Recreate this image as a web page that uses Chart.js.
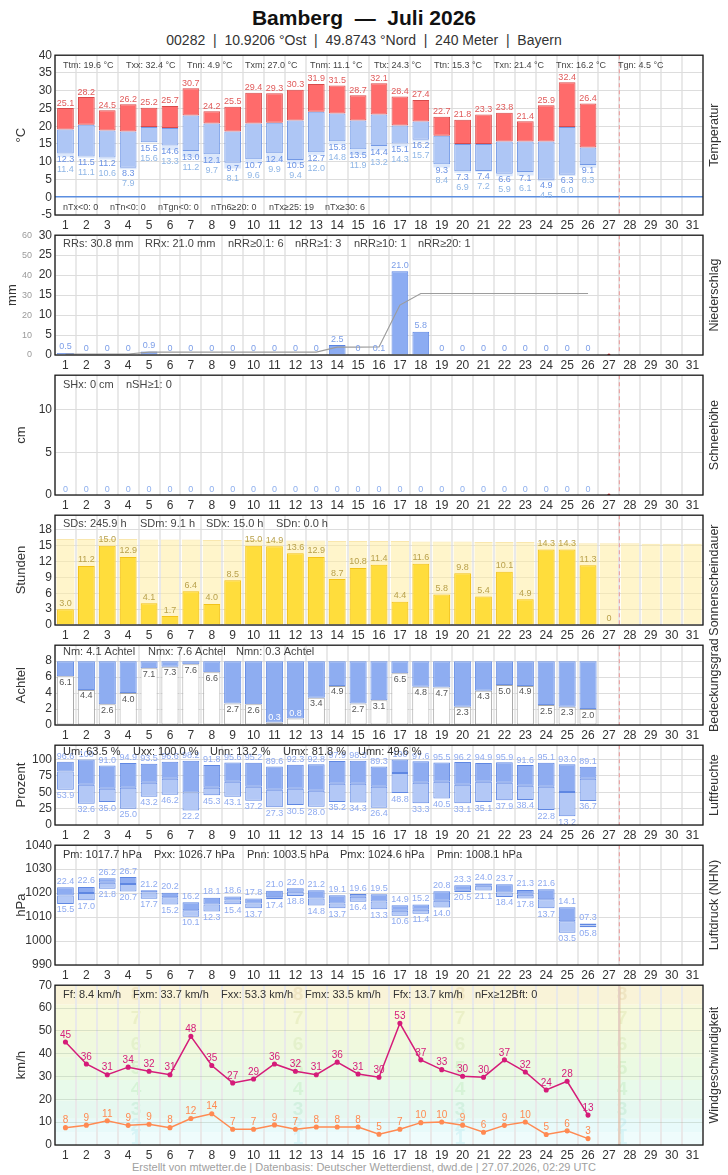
<!DOCTYPE html>
<html lang="de">
<head>
<meta charset="UTF-8">
<title>Bamberg — Juli 2026</title>
<script src="https://cdn.jsdelivr.net/npm/chart.js"></script>
<style>
  body { margin: 0; background: #fff; }
  #wrap { position: relative; width: 728px; height: 1175px; overflow: hidden; }
  #title { position: absolute; top: 5px; left: 0; width: 728px; text-align: center;
           font: bold 21px "Liberation Sans Narrow", "Liberation Sans", sans-serif; color: #111; line-height: 26px; }
  #sub { position: absolute; top: 31px; left: 0; width: 728px; text-align: center;
         font: 14px "Liberation Sans Narrow", "Liberation Sans", sans-serif; color: #333; line-height: 18px; }
  #foot { position: absolute; top: 1160px; left: 0; width: 728px; text-align: center;
          font: 11px "Liberation Sans", Arial, sans-serif; color: #a0a0a0; line-height: 14px; }
  canvas { position: absolute; left: 0; }
</style>
</head>
<body>
<div id="wrap">
  <div id="title">Bamberg &nbsp;—&nbsp; Juli 2026</div>
  <div id="sub">00282 &nbsp;|&nbsp; 10.9206 °Ost &nbsp;|&nbsp; 49.8743 °Nord &nbsp;|&nbsp; 240 Meter &nbsp;|&nbsp; Bayern</div>
  <div id="foot">Erstellt von mtwetter.de | Datenbasis: Deutscher Wetterdienst, dwd.de | 27.07.2026, 02:29 UTC</div>
</div>
<script>
// ---- data ----
const days = ['1','2','3','4','5','6','7','8','9','10','11','12','13','14','15','16',
              '17','18','19','20','21','22','23','24','25','26','27','28','29','30','31'];

// temperature (°C)
const tMax  = [25.1,28.2,24.5,26.2,25.2,25.7,30.7,24.2,25.5,29.4,29.3,30.3,31.9,31.5,28.7,32.1,28.4,27.4,22.7,21.8,23.3,23.8,21.4,25.9,32.4,26.4];
const tMean = [19.1,20.4,18.8,18.5,19.8,19.5,23.0,20.8,18.5,20.8,21.0,21.6,24.1,23.6,21.6,23.3,20.2,21.3,17.3,15.0,15.0,15.7,15.7,15.7,19.8,14.0];
const tMin  = [12.3,11.5,11.2,8.3,15.5,14.6,13.0,12.1,9.7,10.7,12.4,10.5,12.7,15.8,13.5,14.4,15.1,16.2,9.3,7.3,7.4,6.6,7.1,4.9,6.3,9.1];
const tGnd  = [11.4,11.1,10.6,7.9,15.6,13.3,11.2,9.7,8.1,9.6,9.9,9.4,12.0,14.8,11.9,13.2,14.3,15.7,8.4,6.9,7.2,5.9,6.1,4.5,6.0,8.3];

// precipitation (mm) and running total
const rr    = [0.5,0,0,0,0.9,0,0,0,0,0,0,0,0,2.5,0,0.1,21.0,5.8,0,0,0,0,0,0,0,0];
const rrSum = [0.5,0.5,0.5,0.5,1.4,1.4,1.4,1.4,1.4,1.4,1.4,1.4,1.4,3.9,3.9,4.0,25.0,30.8,30.8,30.8,30.8,30.8,30.8,30.8,30.8,30.8];

// snow depth (cm)
const snow = [0,0,0,0,0,0,0,0,0,0,0,0,0,0,0,0,0,0,0,0,0,0,0,0,0,0];

// sunshine (h) and possible sunshine (h)
const sun    = [3.0,11.2,15.0,12.9,4.1,1.7,6.4,4.0,8.5,15.0,14.9,13.6,12.9,8.7,10.8,11.4,4.4,11.6,5.8,9.8,5.4,10.1,4.9,14.3,14.3,11.3,0];
const sunMax = [16.3,16.3,16.3,16.3,16.2,16.2,16.2,16.1,16.1,16.1,16.0,16.0,16.0,15.9,15.9,15.9,15.9,15.8,15.8,15.8,15.7,15.7,15.7,15.6,15.6,15.5,15.5,15.5,15.4,15.4,15.4];

// cloud cover (octas)
const cloud = [6.1,4.4,2.6,4.0,7.1,7.3,7.6,6.6,2.7,2.6,0.3,0.8,3.4,4.9,2.7,3.1,6.5,4.8,4.7,2.3,4.3,5.0,4.9,2.5,2.3,2.0];

// relative humidity (%)
const rhMax  = [96.6,100,91.0,94.9,93.5,96.6,98.2,91.8,95.6,95.2,89.6,92.3,92.8,97.9,98.3,89.3,100,97.6,95.5,96.2,94.9,95.9,91.6,95.1,93.0,89.1];
const rhMean = [81.8,61.5,55.4,56.9,64.6,70.8,49.6,56.9,66.2,58.5,53.8,55.4,52.3,63.1,63.1,58.5,79.5,64.6,66.2,61.5,66.2,64.6,60.0,58.5,50.5,70.8];
const rhMin  = [53.9,32.6,35.0,25.0,43.2,46.2,22.2,45.3,43.1,37.2,27.3,30.5,28.0,35.2,34.3,26.4,48.8,33.3,40.5,33.1,35.1,37.9,38.4,22.8,13.2,36.7];

// pressure (hPa)
const pMax  = [1022.4,1022.6,1026.2,1026.7,1021.2,1020.2,1016.2,1018.1,1018.6,1017.8,1021.0,1022.0,1021.2,1019.1,1019.6,1019.5,1014.9,1015.2,1020.8,1023.3,1024.0,1023.7,1021.3,1021.6,1014.1,1007.3];
const pMean = [1019.0,1020.0,1024.3,1023.8,1020.3,1018.3,1012.9,1015.3,1016.9,1015.7,1018.3,1020.6,1017.8,1015.7,1018.5,1016.5,1012.6,1013.1,1016.8,1021.0,1023.1,1020.3,1019.3,1017.4,1008.3,1006.5];
const pMin  = [1015.5,1017.0,1021.8,1020.7,1017.7,1015.2,1010.1,1012.3,1015.4,1013.7,1017.4,1018.8,1014.8,1013.7,1016.4,1013.3,1010.6,1011.4,1014.0,1020.5,1021.1,1018.4,1017.8,1013.7,1003.5,1005.8];

// wind (km/h): max gust and mean
const gust = [45.1,35.5,30.8,34.1,32.3,30.8,47.6,34.8,27.2,28.9,35.5,32.3,30.8,36.3,31.1,29.7,53.3,37.3,33.0,30.1,29.7,37.3,32.0,24.1,27.9,13.1];
const wind = [7.6,8.7,10.6,8.6,9.1,7.6,11.6,13.7,6.9,6.9,8.8,6.9,7.9,7.9,7.9,4.7,6.9,9.8,10.1,8.7,5.6,8.6,10.1,4.6,6.2,2.8];

// Beaufort band limits (km/h)
const bftEdges = [0,5.5,11.5,19.5,28.5,38.5,49.5,61.5,70];

// ---- helpers ----
const FONT = '"Liberation Sans", Arial, sans-serif';
Chart.defaults.font.family = FONT;
Chart.defaults.color = '#333';

function canvasAt(plotTop, plotH) {
  const c = document.createElement('canvas');
  c.width = 728;
  c.height = plotH + 30;
  c.style.top = (plotTop - 10) + 'px';
  document.getElementById('wrap').appendChild(c);
  return c;
}

function xAxis() {
  return {
    offset: true,
    grid: { offset: true, color: '#e9e9e9', lineWidth: 2, drawTicks: false },
    border: { display: false },
    ticks: { autoSkip: false, maxRotation: 0, padding: 3, color: '#333', font: { size: 12 } },
    afterFit: s => { s.height = 20; }
  };
}

function yAxis(title, min, max, step, top, width, extra) {
  const ax = {
    min: min, max: max,
    grid: { color: '#dddddd', drawTicks: false },
    border: { display: false },
    ticks: { stepSize: step, padding: 3, color: '#333', font: { size: 12 }, callback: v => String(v) },
    afterBuildTicks: s => { s.ticks = s.ticks.filter(t => t.value <= top && Math.abs((t.value - min) / step - Math.round((t.value - min) / step)) < 1e-6); },
    title: title ? { display: true, text: title, color: '#333', font: { size: 13 }, padding: { top: 14, bottom: 0 } } : { display: false },
    afterFit: s => { s.width = width; }
  };
  return Object.assign(ax, extra || {});
}

function baseOptions(scales) {
  return {
    responsive: false,
    animation: false,
    events: [],
    layout: { padding: { top: 10, right: 25, left: 0, bottom: 0 } },
    plugins: { legend: { display: false }, tooltip: { enabled: false } },
    scales: scales
  };
}

// draws value labels, stats rows, today marker, frame, right-hand title
function deco(o) {
  return {
    id: 'deco',
    beforeDraw(chart) { if (o.bg) o.bg(chart); },
    afterDatasetsDraw(chart) {
      const ctx = chart.ctx, xs = chart.scales.x;
      ctx.save();
      ctx.textAlign = 'center';
      ctx.textBaseline = 'middle';
      (o.labels || []).forEach(it => {
        const ys = chart.scales[it.axis || 'y'];
        ctx.font = (it.size || 9) + 'px ' + FONT;
        it.vals.forEach((v, i) => {
          if (v === null || v === undefined) return;
          const at = it.at ? it.at[i] : v;
          ctx.fillStyle = typeof it.color === 'function' ? it.color(v) : it.color;
          const dy = typeof it.dy === 'function' ? it.dy(v) : it.dy;
          ctx.fillText(it.fmt(v), xs.getPixelForValue(i), ys.getPixelForValue(at) + dy);
        });
      });
      ctx.restore();
    },
    afterDraw(chart) {
      const ctx = chart.ctx, a = chart.chartArea, xs = chart.scales.x;
      ctx.save();
      // today marker
      const tx = (xs.getPixelForValue(26) + xs.getPixelForValue(27)) / 2;
      ctx.strokeStyle = o.todayColor || '#eba5a5';
      ctx.lineWidth = o.todayWidth || 1.2;
      ctx.setLineDash(o.todayDash || [4, 3]);
      ctx.beginPath(); ctx.moveTo(tx, a.top); ctx.lineTo(tx, a.bottom); ctx.stroke();
      ctx.setLineDash([]);
      // frame
      ctx.strokeStyle = '#1a1a1a';
      ctx.lineWidth = 1.3;
      ctx.strokeRect(a.left, a.top, a.right - a.left, a.bottom - a.top);
      // stats
      ctx.textAlign = 'left';
      ctx.textBaseline = 'middle';
      (o.stats || []).forEach(row => {
        ctx.font = (row.size || 11) + 'px ' + FONT;
        ctx.fillStyle = row.color || '#444';
        const y = row.dy >= 0 ? a.top + row.dy : a.bottom + row.dy;
        row.items.forEach((t, i) => ctx.fillText(t, row.xs[i], y));
      });
      // right title
      ctx.translate(715, (a.top + a.bottom) / 2 + (o.rightShift || 0));
      ctx.rotate(-Math.PI / 2);
      ctx.textAlign = 'center';
      ctx.font = '12.5px ' + FONT;
      ctx.fillStyle = '#333';
      ctx.fillText(o.right, 0, 0);
      ctx.restore();
    }
  };
}

const f1 = v => v.toFixed(1);
const f0or1 = v => (v === 0 ? '0' : v.toFixed(1));

// ---- 1 Temperatur ----
new Chart(canvasAt(55, 160), {
  type: 'bar',
  data: {
    labels: days,
    datasets: [
      { data: tMean.map((m, i) => [m, tMax[i]]), backgroundColor: '#ff6b6b', borderColor: '#d84a4a', borderWidth: 1, borderSkipped: false, grouped: false, barPercentage: 0.8, categoryPercentage: 1 },
      { data: tMin.map((m, i) => [m, tMean[i]]), backgroundColor: '#aec6f5', borderColor: '#7399e6', borderWidth: 1, borderSkipped: false, grouped: false, barPercentage: 0.8, categoryPercentage: 1 },
      { data: tGnd.map((g, i) => [g, tMin[i]]), backgroundColor: '#dbe7fb', borderWidth: 0, grouped: false, barPercentage: 0.8, categoryPercentage: 1 }
    ]
  },
  options: baseOptions({
    x: xAxis(),
    y: yAxis('°C', -5, 40, 5, 40, 55, {
      grid: { drawTicks: false, color: c => (c.tick && c.tick.value === 0 ? '#5b8ee0' : '#dddddd'), lineWidth: c => (c.tick && c.tick.value === 0 ? 1.5 : 1) }
    })
  }),
  plugins: [deco({
    right: 'Temperatur',
    labels: [
      { vals: tMax, dy: -5, color: '#e05a5a', fmt: f1 },
      { vals: tMin, dy: 6, color: '#6a92e4', fmt: f1 },
      { vals: tGnd, at: tMin, dy: 16, color: '#8fb6e6', fmt: f1 }
    ],
    stats: [
      { dy: 10, size: 9, xs: [63,126,187,245,310,374,434,494,556,618],
        items: ['Ttm: 19.6 °C','Txx: 32.4 °C','Tnn: 4.9 °C','Txm: 27.0 °C','Tnm: 11.1 °C','Ttx: 24.3 °C','Ttn: 15.3 °C','Txn: 21.4 °C','Tnx: 16.2 °C','Tgn: 4.5 °C'] },
      { dy: -7, size: 9, xs: [63,110,158,211,269,325],
        items: ['nTx<0: 0','nTn<0: 0','nTgn<0: 0','nTn6≥20: 0','nTx≥25: 19','nTx≥30: 6'] }
    ]
  })]
});

// ---- 2 Niederschlag ----
new Chart(canvasAt(235, 120), {
  type: 'bar',
  data: {
    labels: days,
    datasets: [
      { type: 'line', data: rrSum, yAxisID: 'yCum', borderColor: '#9c9c9c', borderWidth: 1.2, pointRadius: 0, tension: 0 },
      { type: 'line', data: [{ x: '27', y: 0 }], yAxisID: 'y', showLine: false, pointRadius: 1.6, pointBackgroundColor: '#e02020', pointBorderWidth: 0 },
      { data: rr, backgroundColor: '#8cacf2', borderColor: '#5a84e2', borderWidth: 1, grouped: false, barPercentage: 0.8, categoryPercentage: 1 }
    ]
  },
  options: baseOptions({
    x: xAxis(),
    y: yAxis(null, 0, 30, 5, 30, 21, { weight: 0 }),
    yCum: yAxis('mm', 0, 60, 10, 60, 34, {
      position: 'left', weight: 1, grid: { display: false, drawTicks: false },
      ticks: { stepSize: 10, padding: 2, color: '#9a9a9a', font: { size: 9 } },
      title: { display: true, text: 'mm', color: '#333', font: { size: 13 }, padding: { top: 5, bottom: 0 } }
    })
  }),
  plugins: [deco({
    right: 'Niederschlag',
    labels: [{ vals: rr, dy: -6, color: '#7c9ee8', fmt: f0or1 }],
    stats: [{ dy: 9, xs: [63,145,228,295,354,418],
      items: ['RRs: 30.8 mm','RRx: 21.0 mm','nRR≥0.1: 6','nRR≥1: 3','nRR≥10: 1','nRR≥20: 1'] }]
  })]
});

// ---- 3 Schneehöhe ----
new Chart(canvasAt(375, 120), {
  type: 'bar',
  data: {
    labels: days,
    datasets: [
      { type: 'line', data: [{ x: '27', y: 0 }], showLine: false, pointRadius: 1.6, pointBackgroundColor: '#e02020', pointBorderWidth: 0 },
      { data: snow, backgroundColor: '#8cacf2', borderColor: '#5a84e2', borderWidth: 0, grouped: false, barPercentage: 0.8, categoryPercentage: 1 }
    ]
  },
  options: baseOptions({ x: xAxis(), y: yAxis('cm', 0, 14, 5, 10, 55) }),
  plugins: [deco({
    right: 'Schneehöhe',
    labels: [{ vals: snow, dy: -5, color: '#8fb0ee', fmt: v => String(v) }],
    stats: [{ dy: 10, xs: [63,126], items: ['SHx: 0 cm','nSH≥1: 0'] }]
  })]
});

// ---- 4 Sonnenscheindauer ----
new Chart(canvasAt(515, 110), {
  type: 'bar',
  data: {
    labels: days,
    datasets: [
      { data: sun, backgroundColor: '#ffdd3c', borderColor: '#f3c31a', borderWidth: 1, grouped: false, barPercentage: 0.8, categoryPercentage: 1, order: 1 },
      { data: sunMax, backgroundColor: 'rgba(255,236,160,0.55)', borderColor: 'rgba(245,215,120,0.6)', borderWidth: { top: 1, left: 0, right: 0, bottom: 0 }, grouped: false, barPercentage: 0.88, categoryPercentage: 1, order: 2 }
    ]
  },
  options: baseOptions({ x: xAxis(), y: yAxis('Stunden', 0, 20.8, 3, 18, 55) }),
  plugins: [deco({
    right: 'Sonnenscheindauer',
    rightShift: 10,
    labels: [{ vals: sun, dy: -6, color: '#b9a14c', fmt: f0or1 }],
    stats: [{ dy: 9, xs: [63,140,206,276], items: ['SDs: 245.9 h','SDm: 9.1 h','SDx: 15.0 h','SDn: 0.0 h'] }]
  })]
});

// ---- 5 Bedeckungsgrad ----
new Chart(canvasAt(645, 80), {
  type: 'bar',
  data: {
    labels: days,
    datasets: [
      { data: cloud.map(n => [0, n]), backgroundColor: '#ffffff', borderColor: '#a9a9a9', borderWidth: 1, borderSkipped: false, grouped: false, barPercentage: 0.82, categoryPercentage: 1 },
      { data: cloud.map(n => [n, 8]), backgroundColor: '#8eadf1', borderColor: '#6b91e5', borderWidth: 1, borderSkipped: false, grouped: false, barPercentage: 0.82, categoryPercentage: 1 }
    ]
  },
  options: baseOptions({ x: xAxis(), y: yAxis('Achtel', 0, 10, 2, 8, 55) }),
  plugins: [deco({
    right: 'Bedeckungsgrad',
    labels: [{ vals: cloud, dy: v => (v < 1 ? -5 : 6), color: v => (v < 1 ? '#ffffff' : '#555555'), fmt: f1 }],
    stats: [{ dy: 7, xs: [63,148,236], items: ['Nm: 4.1 Achtel','Nmx: 7.6 Achtel','Nmn: 0.3 Achtel'] }]
  })]
});

// ---- 6 Luftfeuchte ----
new Chart(canvasAt(745, 80), {
  type: 'bar',
  data: {
    labels: days,
    datasets: [
      { data: rhMean.map((m, i) => [m, rhMax[i]]), backgroundColor: '#8eacf1', borderColor: '#5f87e2', borderWidth: 1, borderSkipped: false, grouped: false, barPercentage: 0.8, categoryPercentage: 1 },
      { data: rhMin.map((m, i) => [m, rhMean[i]]), backgroundColor: '#b3c8f6', borderColor: '#5f87e2', borderWidth: 1, borderSkipped: false, grouped: false, barPercentage: 0.8, categoryPercentage: 1 }
    ]
  },
  options: baseOptions({ x: xAxis(), y: yAxis('Prozent', 0, 122, 25, 100, 55) }),
  plugins: [deco({
    right: 'Luftfeuchte',
    labels: [
      { vals: rhMax, dy: -5, color: '#8eaaf0', fmt: v => (v === 100 ? '100' : v.toFixed(1)) },
      { vals: rhMin, dy: 6, color: '#8eaaf0', fmt: f1 }
    ],
    stats: [{ dy: 7, color: '#333', xs: [63,133,210,283,358], items: ['Um: 63.5 %','Uxx: 100.0 %','Unn: 13.2 %','Umx: 81.8 %','Umn: 49.6 %'] }]
  })]
});

// ---- 7 Luftdruck ----
const fP = v => (v - 1000).toFixed(1).padStart(4, '0');
new Chart(canvasAt(845, 120), {
  type: 'bar',
  data: {
    labels: days,
    datasets: [
      { data: pMean.map((m, i) => [m, pMax[i]]), backgroundColor: '#8eacf1', borderColor: '#5f87e2', borderWidth: 1, borderSkipped: false, grouped: false, barPercentage: 0.8, categoryPercentage: 1 },
      { data: pMin.map((m, i) => [m, pMean[i]]), backgroundColor: '#b3c8f6', borderColor: '#5f87e2', borderWidth: 1, borderSkipped: false, grouped: false, barPercentage: 0.8, categoryPercentage: 1 }
    ]
  },
  options: baseOptions({ x: xAxis(), y: yAxis('hPa', 990, 1040, 10, 1040, 55) }),
  plugins: [deco({
    right: 'Luftdruck (NHN)',
    labels: [
      { vals: pMax, dy: -6, color: '#8eaaf0', fmt: fP },
      { vals: pMin, dy: 6, color: '#8eaaf0', fmt: fP }
    ],
    stats: [{ dy: 10, color: '#333', xs: [63,154,247,340,437], items: ['Pm: 1017.7 hPa','Pxx: 1026.7 hPa','Pnn: 1003.5 hPa','Pmx: 1024.6 hPa','Pmn: 1008.1 hPa'] }]
  })]
});

// ---- 8 Windgeschwindigkeit ----
const bandFill = ['#effcfc','#e8fafa','#e6f8f0','#e8faea','#ebfae2','#f0f9de','#f6f9db','#f9f3d8'];
const bandText = ['rgba(150,225,230,0.25)','rgba(150,225,230,0.25)','rgba(140,215,170,0.22)','rgba(150,220,150,0.22)',
                  'rgba(160,215,140,0.22)','rgba(185,215,140,0.22)','rgba(205,215,140,0.25)','rgba(215,195,140,0.28)'];
function windBands(chart) {
  const ctx = chart.ctx, a = chart.chartArea, ys = chart.scales.y;
  ctx.save();
  for (let b = 0; b < bftEdges.length - 1; b++) {
    const y1 = ys.getPixelForValue(bftEdges[b]), y2 = ys.getPixelForValue(bftEdges[b + 1]);
    ctx.fillStyle = bandFill[b];
    ctx.fillRect(a.left, y2, a.right - a.left, y1 - y2);
  }
  ctx.font = 'bold 19px ' + FONT;
  ctx.textAlign = 'center';
  ctx.textBaseline = 'middle';
  [0.125, 0.375, 0.625, 0.875].forEach(fx => {
    const x = a.left + (a.right - a.left) * fx;
    for (let b = 0; b < bftEdges.length - 1; b++) {
      const yc = ys.getPixelForValue(Math.min((bftEdges[b] + bftEdges[b + 1]) / 2, 66.5));
      ctx.fillStyle = bandText[b];
      ctx.fillText(String(b + 1), x, yc);
    }
  });
  ctx.restore();
}
new Chart(canvasAt(985, 160), {
  type: 'line',
  data: {
    labels: days,
    datasets: [
      { data: gust, borderColor: '#d51c79', backgroundColor: '#d51c79', borderWidth: 1.5, pointRadius: 1.8, tension: 0 },
      { data: wind, borderColor: '#ff8a52', backgroundColor: '#ff8a52', borderWidth: 1.5, pointRadius: 1.8, tension: 0 }
    ]
  },
  options: baseOptions({
    x: xAxis(),
    y: yAxis('km/h', 0, 70, 10, 70, 55, { grid: { color: 'rgba(150,170,150,0.3)', drawTicks: false } })
  }),
  plugins: [deco({
    right: 'Windgeschwindigkeit',
    bg: windBands,
    todayColor: 'rgba(225,180,150,0.5)', todayWidth: 2.5, todayDash: [],
    labels: [
      { vals: gust, dy: -7, size: 10, color: '#d51c79', fmt: v => String(Math.round(v)) },
      { vals: wind, dy: -7, size: 10, color: '#ff8a52', fmt: v => String(Math.round(v)) }
    ],
    stats: [{ dy: 10, color: '#333', xs: [63,133,221,305,393,475],
      items: ['Ff: 8.4 km/h','Fxm: 33.7 km/h','Fxx: 53.3 km/h','Fmx: 33.5 km/h','Ffx: 13.7 km/h','nFx≥12Bft: 0'] }]
  })]
});
</script>
</body>
</html>
